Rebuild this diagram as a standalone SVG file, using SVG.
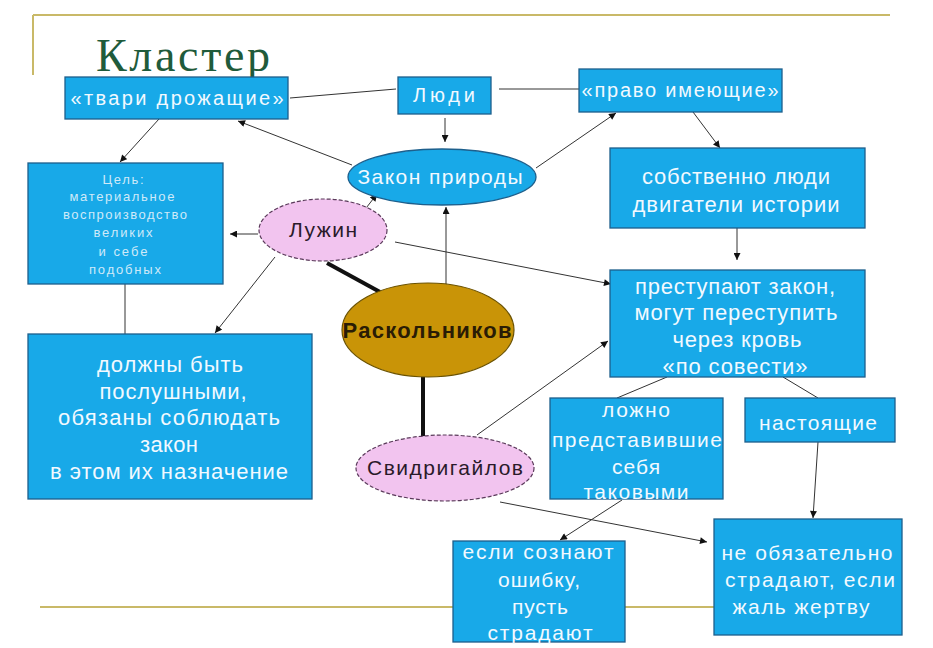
<svg xmlns="http://www.w3.org/2000/svg" width="933" height="648" viewBox="0 0 933 648">
<defs>
<style>
.bx{fill:#18a9e8;stroke:#1d5f8c;stroke-width:1.3}
.t{font-family:"Liberation Sans",Arial,sans-serif;fill:#f2f9ff;text-anchor:middle}
.d{font-family:"Liberation Sans",Arial,sans-serif;fill:#2a1a2a;text-anchor:middle}
.c{stroke:#333;stroke-width:1;fill:none}
.k{stroke:#111;stroke-width:4;fill:none}
.deco{stroke:#c9b968;stroke-width:2;fill:none}
</style>
<marker id="ar" viewBox="0 0 10 10" refX="10" refY="5" markerWidth="8" markerHeight="7" markerUnits="userSpaceOnUse" orient="auto">
<path d="M0,0 L10,5 L0,10 z" fill="#111"/>
</marker>
</defs>
<rect width="933" height="648" fill="#ffffff"/>
<g id="decor">
<path class="deco" d="M33,15 L890,15 M33,15 L33,75"/>
<path class="deco" d="M40,607 L760,607"/>
<text x="96" y="71" font-family="Liberation Serif,Times New Roman,serif" font-size="46" fill="#1f5b3b" textLength="174">Кластер</text>
</g>
<g id="connectors">
<path class="c" d="M396,89 L290,98"/>
<path class="c" d="M499,89 L580,89"/>
<path class="c" d="M445,118 L445,142" marker-end="url(#ar)"/>
<path class="c" d="M352,165 L238,121" marker-end="url(#ar)"/>
<path class="c" d="M536,168 L616,113" marker-end="url(#ar)"/>
<path class="c" d="M693,112 L720,148" marker-end="url(#ar)"/>
<path class="c" d="M159,119 L120,162" marker-end="url(#ar)"/>
<path class="c" d="M258,234 L230,234" marker-end="url(#ar)"/>
<path class="c" d="M363,212 L377,194" marker-end="url(#ar)"/>
<path class="c" d="M275,257 L215,333" marker-end="url(#ar)"/>
<path class="c" d="M125,284 L125,334"/>
<path class="k" d="M327,263 L380,292"/>
<path class="c" d="M446,285 L446,207" marker-end="url(#ar)"/>
<path class="c" d="M395,242 L611,284" marker-end="url(#ar)"/>
<path class="c" d="M737,228 L737,260" marker-end="url(#ar)"/>
<path class="k" d="M423,377 L423,440"/>
<path class="c" d="M477,435 L608,341" marker-end="url(#ar)"/>
<path class="c" d="M667,377 L617,398"/>
<path class="c" d="M783,377 L818,398"/>
<path class="c" d="M818,442 L813,518" marker-end="url(#ar)"/>
<path class="c" d="M622,500 L560,540" marker-end="url(#ar)"/>
<path class="c" d="M500,502 L707,542" marker-end="url(#ar)"/>
</g>
<g id="tvari">
<rect class="bx" x="65" y="77" width="223" height="42"/>
<text class="t" x="177" y="105" font-size="20" textLength="213">«твари дрожащие»</text>
</g>
<g id="lyudi">
<rect class="bx" x="398" y="77" width="93" height="37"/>
<text class="t" x="444" y="102" font-size="20" textLength="62">Люди</text>
</g>
<g id="pravo">
<rect class="bx" x="579" y="69" width="203" height="43"/>
<text class="t" x="680" y="97" font-size="20" textLength="197">«право имеющие»</text>
</g>
<g id="zakon">
<ellipse cx="442" cy="177" rx="94" ry="28" fill="#18a9e8" stroke="#1d5f8c" stroke-width="1.3"/>
<text class="t" x="440" y="184" font-size="21" textLength="165">Закон природы</text>
</g>
<g id="sobstvenno">
<rect class="bx" x="610" y="148" width="255" height="80"/>
<text class="t" font-size="22"><tspan x="736" y="184" textLength="188">собственно люди</tspan><tspan x="736" y="212" textLength="207">двигатели истории</tspan></text>
</g>
<g id="cel">
<rect class="bx" x="28" y="163" width="195" height="121"/>
<text class="t" font-size="13" style="fill:#cfeaf9"><tspan x="123" y="184" textLength="41">Цель:</tspan><tspan x="122" y="201" textLength="105">материальное</tspan><tspan x="125" y="219" textLength="124">воспроизводство</tspan><tspan x="123" y="237" textLength="59">великих</tspan><tspan x="123" y="256" textLength="49">и себе</tspan><tspan x="125" y="274" textLength="72">подобных</tspan></text>
</g>
<g id="luzhin">
<ellipse cx="323" cy="230" rx="64" ry="31" fill="#f2c4ef" stroke="#5a3a5a" stroke-width="1.2" stroke-dasharray="4 2"/>
<text class="d" x="323" y="237" font-size="21" textLength="68">Лужин</text>
</g>
<g id="raskolnikov">
<ellipse cx="428" cy="330" rx="86" ry="47" fill="#c99407" stroke="#6b5200" stroke-width="1.2"/>
<text class="d" x="427" y="338" font-size="22" font-weight="bold" textLength="169" style="fill:#2a1c05">Раскольников</text>
</g>
<g id="prestupayut">
<rect class="bx" x="610" y="270" width="255" height="107"/>
<text class="t" font-size="22"><tspan x="735" y="294" textLength="200">преступают закон,</tspan><tspan x="736" y="320" textLength="203">могут переступить</tspan><tspan x="737" y="347" textLength="129">через кровь</tspan><tspan x="735" y="374" textLength="145">«по совести»</tspan></text>
</g>
<g id="dolzhny">
<rect class="bx" x="28" y="334" width="284" height="165"/>
<text class="t" font-size="22"><tspan x="170" y="372" textLength="146">должны быть</tspan><tspan x="173" y="399" textLength="147">послушными,</tspan><tspan x="169" y="425" textLength="222">обязаны соблюдать</tspan><tspan x="169" y="452" textLength="58">закон</tspan><tspan x="169" y="479" textLength="238">в этом их назначение</tspan></text>
</g>
<g id="svidrigailov">
<ellipse cx="445" cy="468" rx="89" ry="33" fill="#f2c4ef" stroke="#5a3a5a" stroke-width="1.2" stroke-dasharray="4 2"/>
<text class="d" x="445" y="475" font-size="21" textLength="156">Свидригайлов</text>
</g>
<g id="lozhno">
<rect class="bx" x="550" y="398" width="173" height="101"/>
<text class="t" font-size="21"><tspan x="636" y="417" textLength="68">ложно</tspan><tspan x="637" y="447" textLength="170">представившие</tspan><tspan x="636" y="474" textLength="48">себя</tspan><tspan x="636" y="499" textLength="105">таковыми</tspan></text>
</g>
<g id="nastoyashchie">
<rect class="bx" x="745" y="398" width="150" height="44"/>
<text class="t" x="818" y="430" font-size="21" textLength="118">настоящие</text>
</g>
<g id="esli">
<rect class="bx" x="453" y="541" width="172" height="101"/>
<text class="t" font-size="21"><tspan x="538" y="559" textLength="151">если сознают</tspan><tspan x="539" y="587" textLength="82">ошибку,</tspan><tspan x="540" y="614" textLength="56">пусть</tspan><tspan x="540" y="640" textLength="105">страдают</tspan></text>
</g>
<g id="neobyaz">
<rect class="bx" x="714" y="519" width="188" height="116"/>
<text class="t" font-size="21"><tspan x="807" y="560" textLength="171">не обязательно</tspan><tspan x="810" y="587" textLength="170">страдают, если</tspan><tspan x="801" y="614" textLength="137">жаль жертву</tspan></text>
</g>
</svg>
